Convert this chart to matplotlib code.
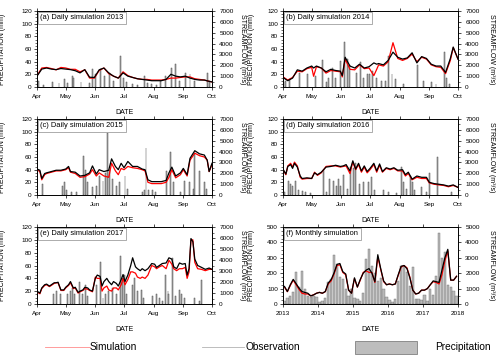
import matplotlib
matplotlib.use("Agg")
import matplotlib.pyplot as plt
from matplotlib.lines import Line2D
from matplotlib.patches import Rectangle
from matplotlib.ticker import AutoMinorLocator
import numpy as np

plt.rcParams['font.family'] = ['Liberation Sans', 'DejaVu Sans']

# x axis of the daily panels: days counted from 1 April
month_pos = [0, 30, 61, 91, 122, 153, 183]
month_lab = ["Apr", "May", "Jun", "Jul", "Aug", "Sep", "Oct"]

# ---- 2013 ----
days13 = [0, 5, 10, 15, 20, 25, 30, 35, 40, 45, 50, 55, 60, 65, 70, 75, 80, 85, 90, 95,
          100, 105, 110, 115, 120, 125, 130, 135, 140, 145, 150, 155, 160, 165, 170, 175, 180, 183]
obs13 = [1000, 1650, 1750, 1650, 1600, 1700, 1650, 1600, 1500, 1300, 1600, 900, 880, 1580, 1750, 1300,
         1000, 820, 1300, 1000, 880, 760, 700, 640, 580, 580, 580, 700, 1170, 1000, 930, 1000, 820,
         700, 640, 640, 520, 470]
sim13 = [1050, 1750, 1800, 1700, 1580, 1800, 1750, 1630, 1630, 1400, 1580, 820, 820, 1520, 1750, 1230,
         1000, 820, 1400, 1050, 880, 760, 700, 700, 640, 640, 640, 700, 820, 820, 880, 930, 930,
         760, 700, 640, 520, 470]
pday13 = [2, 7, 16, 23, 29, 32, 37, 38, 46, 55, 58, 61, 66, 71, 76, 80, 87, 90, 94, 100, 105, 112,
          116, 120, 125, 129, 134, 141, 145, 149, 155, 160, 165, 178, 180]
pmm13 = [10, 3, 8, 6, 12, 6, 18, 15, 8, 6, 29, 20, 28, 18, 22, 10, 49, 15, 8, 4, 3, 18,
         7, 5, 3, 10, 18, 30, 37, 10, 22, 20, 10, 22, 10]

# ---- 2014 ----
days14 = [0, 5, 10, 15, 20, 25, 30, 32, 35, 40, 45, 50, 55, 60, 62, 65, 70, 75, 80, 85, 90, 95, 98,
          100, 105, 110, 115, 120, 125, 130, 135, 140, 145, 150, 155, 160, 165, 170, 175, 178, 183]
obs14 = [880, 580, 820, 1580, 1460, 1750, 1930, 1750, 1930, 1750, 1400, 1630, 1520, 1460, 1050,
         2740, 1930, 1750, 2100, 1750, 1870, 2220, 2100, 2160, 2040, 2450, 3210, 2740, 2570, 2680,
         3150, 2220, 2800, 2630, 2100, 1930, 1930, 1340, 2630, 3680, 2570]
sim14 = [930, 640, 880, 1460, 1400, 1690, 1810, 990, 1870, 1750, 1280, 1520, 1460, 1400, 930,
         2570, 1630, 1580, 2040, 1690, 1750, 1050, 1630, 2040, 1930, 2330, 4080, 2630, 2450, 2630,
         3030, 2330, 2740, 2570, 2040, 1870, 1810, 1230, 2450, 3620, 2570]
pday14 = [1, 3, 7, 17, 26, 34, 41, 45, 48, 52, 55, 60, 64, 67, 70, 77, 81, 84, 88, 90, 94, 98, 103,
          107, 110, 114, 118, 126, 141, 147, 155, 160, 169, 171, 174]
pmm14 = [8, 10, 12, 22, 21, 18, 42, 8, 15, 30, 15, 41, 71, 45, 35, 22, 40, 14, 20, 20, 25, 15, 10,
         10, 49, 20, 12, 5, 35, 10, 8, 5, 55, 15, 5]

# ---- 2015 ----
days15 = [0, 3, 5, 8, 10, 15, 20, 25, 30, 33, 35, 40, 45, 50, 55, 58, 62, 65, 70, 75, 78, 82, 85, 88,
          91, 95, 100, 105, 110, 113, 116, 120, 125, 130, 135, 138, 141, 145, 150, 153, 157, 160,
          165, 170, 175, 178, 180, 183]
obs15 = [2390, 2280, 1520, 1980, 2040, 2160, 2280, 2280, 2390, 2630, 2160, 2100, 1750, 1810, 2040,
         2680, 1930, 2330, 2160, 2280, 3330, 2630, 2330, 2920, 2510, 3090, 2630, 2630, 2390, 2330,
         1400, 1230, 1230, 1230, 1340, 2040, 2570, 1750, 2040, 2450, 1870, 3380, 4080, 3790, 3680,
         3210, 2160, 2920]
sim15 = [2330, 2160, 1400, 1870, 1980, 2100, 2220, 2220, 2330, 2510, 2100, 1980, 1630, 1690, 1930,
         2330, 1750, 2040, 1750, 1630, 2920, 2220, 1870, 2450, 2330, 2630, 2510, 2450, 2330, 2220,
         1170, 1050, 1050, 1050, 1170, 1630, 2330, 1580, 1870, 2330, 1750, 3210, 3850, 3620, 3500,
         3210, 2160, 2800]
pday15 = [6, 27, 29, 31, 36, 41, 49, 51, 53, 58, 62, 65, 69, 72, 74, 76, 79, 83, 86, 92, 95, 110,
          112, 114, 117, 121, 124, 135, 140, 143, 150, 154, 159, 164, 165, 170, 175, 177]
pmm15 = [18, 15, 20, 8, 5, 5, 62, 40, 20, 12, 15, 30, 22, 35, 98, 40, 25, 15, 20, 30, 10, 5,
         8, 75, 8, 8, 5, 38, 68, 20, 5, 22, 20, 10, 67, 38, 20, 10]

# ---- 2016 ----
days16 = [0, 3, 5, 8, 10, 12, 15, 18, 20, 25, 30, 33, 36, 40, 45, 50, 55, 60, 63, 66, 70, 73, 76, 79,
          82, 85, 88, 91, 95, 98, 101, 104, 108, 112, 116, 120, 125, 128, 131, 135, 140, 145, 150,
          153, 158, 163, 168, 173, 178, 183]
obs16 = [2390, 1930, 2630, 2800, 2450, 2920, 2570, 1750, 1520, 1580, 1520, 2040, 1870, 2100, 2570,
         2630, 2740, 2630, 2680, 2800, 2220, 3150, 2390, 2920, 2220, 2680, 2160, 2450, 2920, 2220,
         2860, 2160, 2510, 2390, 2510, 2280, 2330, 1870, 2100, 1460, 1750, 1630, 1630, 1170, 1050,
         990, 930, 820, 930, 700]
sim16 = [2330, 1870, 2680, 2920, 2570, 3030, 2680, 1630, 1460, 1520, 1520, 2100, 1810, 2040, 2630,
         2680, 2680, 2570, 2630, 2680, 1980, 3030, 2330, 2800, 2100, 2570, 2040, 2330, 2800, 2100,
         2740, 2100, 2450, 2330, 2450, 2220, 2220, 1750, 1980, 1400, 1630, 1520, 1520, 1110, 990,
         930, 880, 760, 880, 700]
pday16 = [2, 6, 8, 10, 13, 16, 20, 24, 29, 42, 45, 49, 53, 56, 58, 60, 63, 67, 71, 74, 76, 80, 84,
          89, 93, 96, 105, 110, 119, 124, 126, 129, 133, 135, 138, 145, 150, 153, 162, 176]
pmm16 = [5, 22, 17, 14, 22, 8, 6, 5, 3, 40, 5, 25, 22, 15, 25, 15, 32, 10, 45, 42, 50, 18, 20,
         20, 28, 8, 8, 5, 3, 45, 20, 10, 30, 20, 8, 12, 5, 35, 60, 5]

# ---- 2017 ----
days17 = [0, 3, 5, 8, 10, 13, 15, 18, 20, 22, 25, 28, 30, 33, 35, 38, 40, 43, 45, 48, 50, 53, 55, 58,
          61, 63, 66, 68, 70, 73, 75, 78, 80, 83, 85, 88, 90, 92, 95, 98, 100, 103, 105, 108, 110,
          113, 116, 120, 123, 125, 128, 131, 135, 138, 141, 143, 146, 149, 152, 155, 157, 159, 161,
          163, 165, 168, 172, 176, 180, 183]
obs17 = [1170, 990, 1460, 1750, 1810, 1630, 1750, 1930, 1930, 1980, 1280,
         1280, 1520, 1750, 2040, 1460, 1520, 1050, 1170, 1280, 1520,
         1460, 1280, 1170, 2330, 2630, 2510, 1630, 2040, 2330, 2040,
         1750, 2040, 1870, 1630, 2220, 2680, 2040, 2630, 3500, 4200,
         3380, 3210, 3030, 3210, 3030, 3210, 3680, 3620, 3330, 3500,
         3680, 3730, 4200, 4080, 3380, 3210, 3730, 3620, 3680, 2630,
         3210, 5950, 5660, 4080, 3500, 3330, 3150, 3270, 3150]
sim17 = [1110, 930, 1400, 1690, 1750, 1580, 1690, 1870, 1930, 1930, 1230,
         1230, 1460, 1690, 1930, 1400, 1460, 990, 1110, 1230, 1400,
         1340, 1230, 1110, 2450, 2330, 2330, 1170, 1460, 1630, 1280,
         1170, 1460, 1460, 1280, 1750, 2330, 1750, 2220, 2920, 2920,
         2800, 2450, 2330, 2450, 2330, 2630, 3500, 3380, 3210, 3380,
         3500, 3210, 3970, 3620, 3210, 3030, 3210, 3210, 3330, 2330,
         2920, 5830, 5830, 3790, 3210, 3150, 3030, 3150, 3150]
pday17 = [17, 20, 25, 32, 35, 37, 39, 44, 48, 51, 53, 62, 66, 69, 72, 75, 79, 83, 87, 89, 91, 94,
          100, 102, 105, 109, 111, 121, 125, 128, 131, 134, 137, 138, 142, 145, 149, 151, 154, 165,
          170, 172]
pmm17 = [15, 20, 15, 15, 20, 25, 15, 35, 15, 30, 12, 30, 65, 10, 15, 20, 25, 15, 75, 40, 45, 15,
         30, 40, 20, 22, 10, 12, 15, 10, 5, 45, 20, 15, 72, 12, 22, 15, 10, 10, 5, 38]

# ---- monthly 2013-2017 ----
precip_m = [20, 40, 55, 75, 210, 110, 215, 100, 50, 45, 55, 45,
            10, 20, 40, 140, 160, 315, 260, 175, 160, 95, 50, 95,
            40, 30, 20, 70, 290, 360, 245, 200, 150, 170, 100, 45,
            25, 10, 35, 150, 250, 250, 205, 120, 240, 30, 30, 25,
            60, 20, 100, 60, 185, 460, 300, 340, 125, 110, 85, 55]
obs_m = [1140, 810, 1250, 1600, 1320, 1030, 810, 750, 700, 530, 590, 700,
         750, 700, 810, 1360, 1580, 2020, 2570, 2630, 2100, 1950, 900, 700,
         1700, 1100, 1600, 2000, 2200, 2300, 2000, 1450, 3200, 2300, 1500, 1250,
         1300, 1250, 1300, 1900, 2450, 2500, 2300, 1700, 900, 650, 700, 900,
         900, 1000, 1250, 1500, 1450, 1400, 2200, 3000, 3550, 1550, 1550, 1800]
sim_m = [1100, 800, 1200, 1550, 1250, 950, 700, 650, 650, 530, 600, 700,
         760, 700, 800, 1300, 1500, 1950, 2500, 2550, 2050, 1900, 900, 700,
         1650, 1100, 1550, 2050, 2150, 2050, 2050, 1400, 3050, 2250, 1450, 1250,
         1300, 1250, 1300, 1850, 2400, 2500, 2350, 1750, 900, 650, 700, 900,
         900, 1000, 1250, 1450, 1400, 1300, 1900, 2800, 3450, 1550, 1550, 1800]

W, H = 500.0, 362.0
FS = 5


def style(ax, ax2, title, lab_l, lab_r):
    for a in (ax, ax2):
        for s in a.spines.values():
            s.set_linewidth(0.6)
    ax.tick_params(axis='both', which='major', labelsize=4.6, length=2.2, width=0.5, direction='out')
    ax.tick_params(axis='x', top=True, pad=3)
    ax.tick_params(axis='y', pad=1.5)
    ax.tick_params(axis='y', which='minor', length=1.1, width=0.4, direction='out')
    ax2.tick_params(axis='y', which='major', labelsize=4.6, length=2.2, width=0.5, direction='out', pad=3)
    ax2.tick_params(axis='y', which='minor', length=1.1, width=0.4, direction='out')
    ax.yaxis.set_minor_locator(AutoMinorLocator(4))
    ax2.yaxis.set_minor_locator(AutoMinorLocator(2))
    ax.set_xlabel("DATE", fontsize=FS)
    ax.xaxis.set_label_coords(0.5, -0.29)
    ax.set_ylabel("PRECIPITATION (mm)", fontsize=FS)
    ax.yaxis.set_label_coords(lab_l, 0.5)
    ax2.set_ylabel("STREAMFLOW (m³/s)", fontsize=FS, rotation=270, va='center', ha='center')
    ax2.yaxis.set_label_coords(lab_r, 0.5)
    ax.text(0.018, 0.955, title, transform=ax.transAxes, fontsize=5.4, va='top', ha='left', zorder=5,
            bbox=dict(boxstyle='square,pad=0.35', fc='white', ec='#8c8c8c', lw=0.5))


def daily_panel(ax, days, obs, sim, pday, pmm, title, lab_l, lab_r):
    ax.bar(pday, pmm, width=1.0, color='#b4b4b4', edgecolor='#505050', linewidth=0.35)
    ax.set_xlim(0, 183)
    ax.set_ylim(0, 120)
    ax.set_xticks(month_pos)
    ax.set_xticklabels(month_lab)
    ax.set_yticks(range(0, 121, 20))
    ax2 = ax.twinx()
    ax2.plot(days, sim, color='red', lw=0.9)
    ax2.plot(days, obs, color='black', lw=0.9)
    ax2.set_ylim(0, 7000)
    ax2.set_yticks(range(0, 7001, 1000))
    style(ax, ax2, title, lab_l, lab_r)


fig = plt.figure(figsize=(5.0, 3.62), dpi=100)

col_x = [37, 283]
rows = [(11, 87), (119, 195), (227, 304)]


def make_ax(col, row):
    top, bot = rows[row]
    return fig.add_axes([col_x[col] / W, 1 - bot / H, 175 / W, (bot - top) / H])


daily_panel(make_ax(0, 0), days13, obs13, sim13, pday13, pmm13, "(a) Daily simulation 2013", -0.177, 1.177)
daily_panel(make_ax(1, 0), days14, obs14, sim14, pday14, pmm14, "(b) Daily simulation 2014", -0.16, 1.19)
daily_panel(make_ax(0, 1), days15, obs15, sim15, pday15, pmm15, "(c) Daily simulation 2015", -0.177, 1.177)
daily_panel(make_ax(1, 1), days16, obs16, sim16, pday16, pmm16, "(d) Daily simulation 2016", -0.16, 1.19)
daily_panel(make_ax(0, 2), days17, obs17, sim17, pday17, pmm17, "(e) Daily simulation 2017", -0.177, 1.177)

# monthly panel
axf = make_ax(1, 2)
xm = 2013 + (np.arange(len(precip_m)) + 0.5) / 12.0
axf.bar(xm, precip_m, width=0.068, color='#b8b8b8', edgecolor='#707070', linewidth=0.3)
axf.set_xlim(2013, 2018)
axf.set_ylim(0, 500)
axf.set_xticks(range(2013, 2019))
axf.set_yticks(range(0, 501, 100))
axf2 = axf.twinx()
axf2.plot(xm, sim_m, color='red', lw=0.9)
axf2.plot(xm, obs_m, color='black', lw=0.9)
axf2.set_ylim(0, 5000)
axf2.set_yticks(range(0, 5001, 1000))
style(axf, axf2, "(f) Monthly simulation", -0.16, 1.19)

# legend row
ly = 1 - 347 / H
fig.add_artist(Line2D([45 / W, 90 / W], [ly, ly], color='red', lw=0.6, alpha=0.45))
fig.text(90 / W, ly, "Simulation", fontsize=7.3, va='center', ha='left')
fig.add_artist(Line2D([202 / W, 244 / W], [ly, ly], color='black', lw=0.6, alpha=0.3))
fig.text(245 / W, ly, "Observation", fontsize=7.3, va='center', ha='left')
fig.add_artist(Rectangle((355 / W, 1 - 354 / H), 62 / W, 13 / H, transform=fig.transFigure,
                         fc='#bdbdbd', ec='#808080', lw=0.6))
fig.text(435 / W, ly, "Precipitation", fontsize=7.3, va='center', ha='left')

fig.savefig("out.png", dpi=100)
